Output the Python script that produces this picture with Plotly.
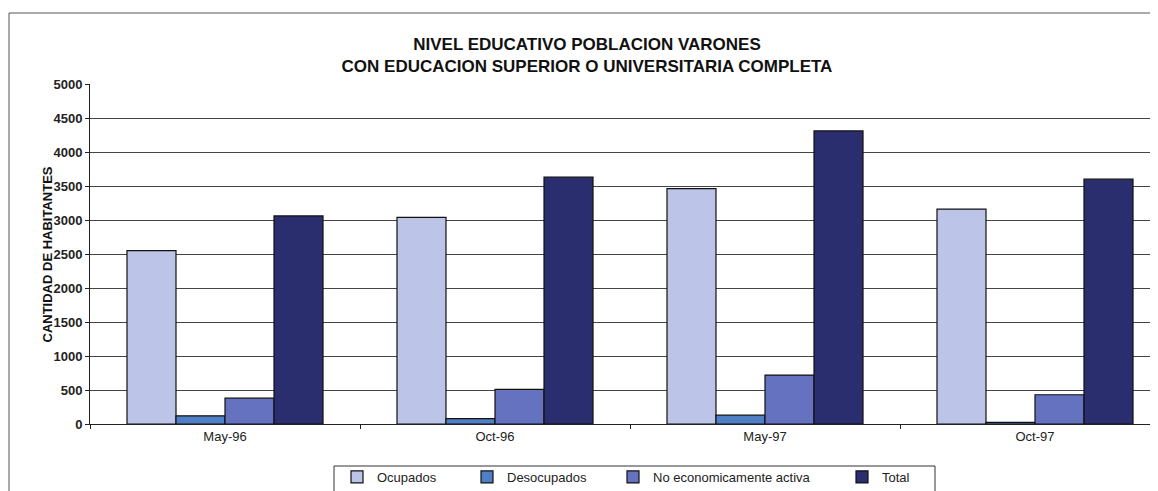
import plotly.graph_objects as go

# periods and series
periodos = ['May-96', 'Oct-96', 'May-97', 'Oct-97']
ocupados = [2550, 3040, 3460, 3160]
desocupados = [120, 80, 130, 25]
no_activa = [380, 510, 720, 430]
total = [3060, 3630, 4310, 3600]

series_names = ['Ocupados', 'Desocupados', 'No economicamente activa', 'Total']
series_values = [ocupados, desocupados, no_activa, total]
series_colors = ['#bcc4e8', '#4f7fc4', '#6472c0', '#2a2d6e']

# the page body has an 8px margin, so the figure starts at (8, 8) on screen
OFF = 8
W, H = 1158 - OFF, 491 - OFF
# plot area in screen pixels: x 90..1170 (category width 270), y 84..424
L, T = 90 - OFF, 84 - OFF
R, B = 0, 491 - 424
PW, PH = W - L - R, H - T - B


def px_x(x):
    # screen x -> paper x
    return (x - OFF - L) / PW


def px_y(y):
    # screen y -> paper y
    return (424 - y) / PH


fig = go.Figure()

legend_ids = ['legend', 'legend2', 'legend3', 'legend4']
text_starts = [377, 507, 653, 882]

for name, vals, col, lid in zip(series_names, series_values, series_colors, legend_ids):
    fig.add_trace(go.Bar(
        x=periodos,
        y=vals,
        name=name,
        marker=dict(color=col, line=dict(color='#111111', width=1.2)),
        legend=lid,
    ))

legend_style = dict(
    orientation='h',
    yanchor='top',
    xanchor='left',
    bgcolor='rgba(0,0,0,0)',
    borderwidth=0,
    font=dict(family='Liberation Sans, Arial', size=13, color='#222222'),
    itemwidth=30,
)
legend_layout = {}
for lid, ts in zip(legend_ids, text_starts):
    legend_layout[lid] = dict(legend_style, x=px_x(ts - 40), y=px_y(462))

fig.update_layout(
    width=W,
    height=H,
    margin=dict(l=L, r=R, t=T, b=B, autoexpand=False),
    paper_bgcolor='white',
    plot_bgcolor='white',
    barmode='group',
    bargap=0.274,
    bargroupgap=0,
    showlegend=True,
    title=dict(
        text='NIVEL EDUCATIVO POBLACION VARONES<br>CON EDUCACION SUPERIOR O UNIVERSITARIA COMPLETA',
        x=px_x(587),
        xref='paper',
        xanchor='center',
        y=1 - (50 - OFF) / H,
        yref='container',
        yanchor='middle',
        font=dict(family='Liberation Sans, Arial', size=17, color='#111111', weight='bold'),
    ),
    xaxis=dict(
        range=[-0.5, -0.5 + PW / 270],
        showgrid=False,
        showline=True,
        linecolor='#222222',
        linewidth=1,
        ticks='outside',
        tickson='boundaries',
        ticklen=4,
        tickcolor='#222222',
        tickfont=dict(family='Liberation Sans, Arial', size=13, color='#222222'),
        fixedrange=True,
    ),
    yaxis=dict(
        range=[0, 5000],
        dtick=500,
        showgrid=True,
        gridcolor='#444444',
        gridwidth=1,
        showline=True,
        linecolor='#222222',
        linewidth=1,
        ticks='outside',
        ticklen=4,
        tickcolor='#222222',
        tickfont=dict(family='Liberation Sans, Arial', size=13, color='#222222', weight='bold'),
        zeroline=False,
        fixedrange=True,
    ),
    **legend_layout,
)

# y-axis title
fig.add_annotation(
    text='CANTIDAD DE HABITANTES',
    xref='paper', yref='paper',
    x=px_x(37), y=px_y(255),
    textangle=-90,
    showarrow=False,
    font=dict(family='Liberation Sans, Arial', size=13, color='#111111', weight='bold'),
)

# chart frame and legend box
fig.add_shape(type='rect', xref='paper', yref='paper',
              x0=px_x(9), x1=px_x(1175), y0=px_y(500), y1=px_y(13),
              line=dict(color='#555555', width=1), layer='below')
fig.add_shape(type='rect', xref='paper', yref='paper',
              x0=px_x(334), x1=px_x(935), y0=px_y(500), y1=px_y(466),
              line=dict(color='#333333', width=1), layer='below')

fig.write_html('out.html')
